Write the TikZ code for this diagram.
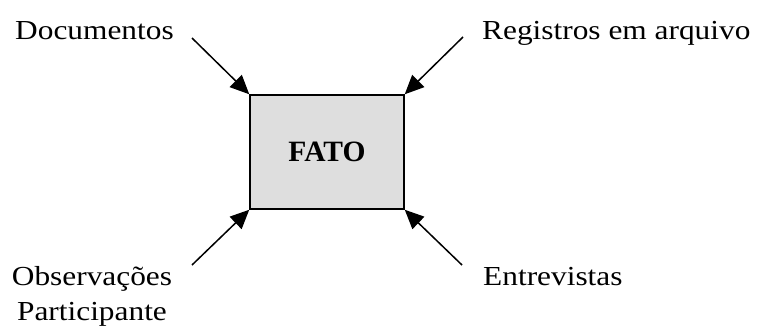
\documentclass[tikz,border=0pt]{standalone}
\usepackage{fontspec}
\setmainfont{Liberation Serif}
\usetikzlibrary{arrows.meta}
\begin{document}
\begin{tikzpicture}[x=1pt,y=-1pt,
  label/.style={inner sep=0pt,xscale=1.14,font=\fontsize{27.5}{35}\selectfont},
  fact/.style={draw=black,line width=1.5pt,fill=black!13,minimum width=154pt,minimum height=114pt,inner sep=0pt,font=\fontsize{29.5}{34}\selectfont\bfseries},
  feed/.style={line width=1.5pt,-{Triangle[length=19pt,width=17pt]}}]
\useasboundingbox (0,0) rectangle (760,327);
\node[fact] (fato) at (327,152) {FATO};
\node[label,anchor=base west] (doc) at (15,39) {Documentos};
\node[label,anchor=base west] (reg) at (482,39) {Registros em arquivo};
\node[label,anchor=base west] (ent) at (483,285) {Entrevistas};
\node[label,anchor=base,align=center] (obs) at (92,320) {Observações\\Participante};
\coordinate (tl) at (192,38);
\coordinate (tr) at (463,37);
\coordinate (bl) at (192,265);
\coordinate (br) at (462,265);
\draw[feed] (tl) -- (fato.north west);
\draw[feed] (tr) -- (fato.north east);
\draw[feed] (bl) -- (fato.south west);
\draw[feed] (br) -- (fato.south east);
\end{tikzpicture}
\end{document}
